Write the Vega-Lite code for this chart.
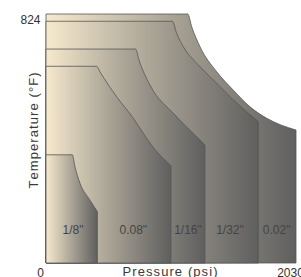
{
  "$schema": "https://vega.github.io/schema/vega-lite/v6.json",
  "width": 250,
  "height": 249,
  "autosize": {"type": "none"},
  "padding": {"left": 46, "top": 14, "right": 5, "bottom": 14},
  "background": "white",
  "config": {"view": {"stroke": null}, "font": "Liberation Sans", "axis": {"labelFont": "Liberation Sans", "titleFont": "Liberation Sans"}},
  "datasets": {
    "regions": [
      {"r": "a", "p": 0, "t": 824}, {"r": "a", "p": 1151, "t": 824}, {"r": "a", "p": 1183, "t": 782}, {"r": "a", "p": 1250, "t": 716}, {"r": "a", "p": 1386, "t": 633}, {"r": "a", "p": 1521, "t": 572}, {"r": "a", "p": 1656, "t": 517}, {"r": "a", "p": 1792, "t": 479}, {"r": "a", "p": 2030, "t": 440},
      {"r": "b", "p": 0, "t": 800}, {"r": "b", "p": 1026, "t": 800}, {"r": "b", "p": 1061, "t": 760}, {"r": "b", "p": 1115, "t": 716}, {"r": "b", "p": 1250, "t": 650}, {"r": "b", "p": 1386, "t": 595}, {"r": "b", "p": 1521, "t": 540}, {"r": "b", "p": 1724, "t": 468},
      {"r": "c", "p": 0, "t": 708}, {"r": "c", "p": 728, "t": 708}, {"r": "c", "p": 755, "t": 672}, {"r": "c", "p": 844, "t": 589}, {"r": "c", "p": 1047, "t": 490}, {"r": "c", "p": 1250, "t": 407}, {"r": "c", "p": 1291, "t": 390},
      {"r": "d", "p": 0, "t": 651}, {"r": "d", "p": 412, "t": 651}, {"r": "d", "p": 438, "t": 633}, {"r": "d", "p": 574, "t": 550}, {"r": "d", "p": 709, "t": 479}, {"r": "d", "p": 790, "t": 429}, {"r": "d", "p": 844, "t": 397}, {"r": "d", "p": 1015, "t": 321},
      {"r": "e", "p": 0, "t": 358}, {"r": "e", "p": 214, "t": 358}, {"r": "e", "p": 235, "t": 319}, {"r": "e", "p": 276, "t": 264}, {"r": "e", "p": 357, "t": 208}, {"r": "e", "p": 417, "t": 170}
    ],
    "labels": [
      {"p": 219, "t": 109, "txt": "1/8\""},
      {"p": 709, "t": 109, "txt": "0.08\""},
      {"p": 1153, "t": 109, "txt": "1/16\""},
      {"p": 1494, "t": 109, "txt": "1/32\""},
      {"p": 1873, "t": 109, "txt": "0.02\""}
    ]
  },
  "data": {"name": "regions"},
  "encoding": {
    "x": {
      "field": "p", "type": "quantitative",
      "scale": {"domain": [0, 2030], "nice": false, "zero": false},
      "axis": {
        "values": [0, 2030], "format": "d", "domain": false, "grid": false, "ticks": false, "tickSize": 0,
        "labelPadding": 13, "labelBaseline": "alphabetic", "labelOffset": -6, "labelFontSize": 12, "labelColor": "#333333",
        "labelFlush": false, "labelOverlap": false, "labelBound": false,
        "title": "P\u200ar\u200ae\u200as\u200as\u200au\u200ar\u200ae\u200a \u200a(\u200ap\u200as\u200ai\u200a)",
        "titleX": 123.5, "titleY": 12.5, "titleAlign": "center", "titleBaseline": "alphabetic",
        "titleFontSize": 13, "titleFontWeight": "normal", "titleColor": "#3a3a3a"
      }
    },
    "y": {
      "field": "t", "type": "quantitative",
      "scale": {"domain": [0, 824], "nice": false, "zero": true},
      "axis": {
        "values": [824], "format": "d", "domain": false, "grid": false, "ticks": false, "tickSize": 0,
        "labelPadding": 6, "labelOffset": 5, "labelBaseline": "middle", "labelFontSize": 12, "labelColor": "#333333",
        "labelFlush": false, "labelOverlap": false, "labelBound": false,
        "title": "T\u200ae\u200am\u200ap\u200ae\u200ar\u200aa\u200at\u200au\u200ar\u200ae\u200a \u200a(\u200a\u00b0\u200aF\u200a)",
        "titleX": -13, "titleY": 116, "titleAngle": -90, "titleAlign": "center", "titleBaseline": "middle",
        "titleFontSize": 13, "titleFontWeight": "normal", "titleColor": "#3a3a3a"
      }
    }
  },
  "layer": [
    {"transform": [{"filter": "datum.r == 'a'"}], "mark": {"type": "area", "interpolate": "monotone", "stroke": "#555555", "strokeWidth": 0.8, "fill": {"gradient": "linear", "x1": 0, "x2": 1, "y1": 0, "y2": 0, "stops": [{"offset": 0, "color": "#f6e9cd"}, {"offset": 1, "color": "#5f5f5f"}]}}},
    {"transform": [{"filter": "datum.r == 'b'"}], "mark": {"type": "area", "interpolate": "monotone", "stroke": "#555555", "strokeWidth": 0.8, "fill": {"gradient": "linear", "x1": 0, "x2": 1, "y1": 0, "y2": 0, "stops": [{"offset": 0, "color": "#f6e9cd"}, {"offset": 1, "color": "#5f5f5f"}]}}},
    {"transform": [{"filter": "datum.r == 'c'"}], "mark": {"type": "area", "interpolate": "monotone", "stroke": "#555555", "strokeWidth": 0.8, "fill": {"gradient": "linear", "x1": 0, "x2": 1, "y1": 0, "y2": 0, "stops": [{"offset": 0, "color": "#f6e9cd"}, {"offset": 1, "color": "#5f5f5f"}]}}},
    {"transform": [{"filter": "datum.r == 'd'"}], "mark": {"type": "area", "interpolate": "monotone", "stroke": "#555555", "strokeWidth": 0.8, "fill": {"gradient": "linear", "x1": 0, "x2": 1, "y1": 0, "y2": 0, "stops": [{"offset": 0, "color": "#f6e9cd"}, {"offset": 1, "color": "#5f5f5f"}]}}},
    {"transform": [{"filter": "datum.r == 'e'"}], "mark": {"type": "area", "interpolate": "monotone", "stroke": "#555555", "strokeWidth": 0.8, "fill": {"gradient": "linear", "x1": 0, "x2": 1, "y1": 0, "y2": 0, "stops": [{"offset": 0, "color": "#f6e9cd"}, {"offset": 1, "color": "#5f5f5f"}]}}},
    {"data": {"name": "labels"}, "mark": {"type": "text", "fontSize": 12, "color": "#444444", "baseline": "middle", "align": "center"}, "encoding": {"text": {"field": "txt"}}}
  ]
}
